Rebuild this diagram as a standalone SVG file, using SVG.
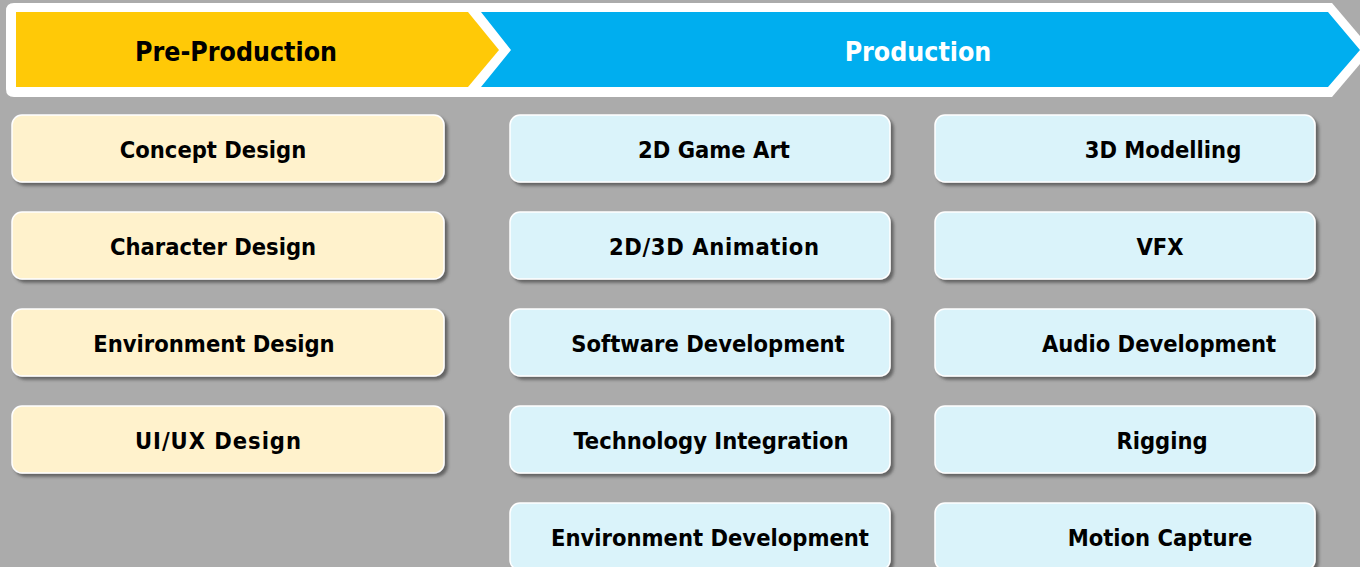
<svg xmlns="http://www.w3.org/2000/svg" width="1360" height="567" viewBox="0 0 1360 567">
<style>
.bg{fill:#ababab}
.box{stroke:#ffffff;stroke-width:1.5;filter:url(#sh)}
.pre{fill:#fff2cc}
.pro{fill:#daf3fa}
.t{font-family:"DejaVu Sans Condensed","DejaVu Sans",sans-serif;font-weight:bold;font-size:23.5px;fill:#000;text-anchor:middle}
.h{font-family:"DejaVu Sans Condensed","DejaVu Sans",sans-serif;font-weight:bold;font-size:26.5px;text-anchor:middle}
</style>
<defs>
<filter id="sh" x="-5%" y="-10%" width="115%" height="130%">
<feDropShadow dx="3" dy="3" stdDeviation="1.5" flood-color="#444" flood-opacity="0.7"/>
</filter>
</defs>
<rect class="bg" x="0" y="0" width="1360" height="567"/>
<g id="banner">
<path d="M14,3 L1332,3 L1372,50 L1332,97 L14,97 Q6,97 6,89 L6,11 Q6,3 14,3 Z" fill="#ffffff"/>
<polygon points="16,12 468,12 499,50 468,87 16,87" fill="#ffc907"/>
<polygon points="481,12 1328,12 1360,50 1328,87 481,87 511,50" fill="#00aeef"/>
</g>
<g id="hdr-pre"><text class="h" x="236" y="61" fill="#000">Pre-Production</text></g>
<g id="hdr-pro"><text class="h" x="918" y="61" fill="#ffffff">Production</text></g>
<g id="connectors"></g>
<g id="n-concept"><rect class="box pre" x="12" y="115" width="432" height="67" rx="10"/><text class="t" x="213" y="158">Concept Design</text></g>
<g id="n-character"><rect class="box pre" x="12" y="212" width="432" height="67" rx="10"/><text class="t" x="213" y="255">Character Design</text></g>
<g id="n-environment"><rect class="box pre" x="12" y="309" width="432" height="67" rx="10"/><text class="t" x="214" y="352">Environment Design</text></g>
<g id="n-uiux"><rect class="box pre" x="12" y="406" width="432" height="67" rx="10"/><text class="t" x="218" y="449" textLength="166" lengthAdjust="spacing">UI/UX Design</text></g>
<g id="n-2dart"><rect class="box pro" x="510" y="115" width="380" height="67" rx="10"/><text class="t" x="714" y="158">2D Game Art</text></g>
<g id="n-anim"><rect class="box pro" x="510" y="212" width="380" height="67" rx="10"/><text class="t" x="714" y="255" textLength="210" lengthAdjust="spacing">2D/3D Animation</text></g>
<g id="n-software"><rect class="box pro" x="510" y="309" width="380" height="67" rx="10"/><text class="t" x="708" y="352">Software Development</text></g>
<g id="n-tech"><rect class="box pro" x="510" y="406" width="380" height="67" rx="10"/><text class="t" x="711" y="449">Technology Integration</text></g>
<g id="n-envdev"><rect class="box pro" x="510" y="503" width="380" height="67" rx="10"/><text class="t" x="710" y="546">Environment Development</text></g>
<g id="n-3d"><rect class="box pro" x="935" y="115" width="380" height="67" rx="10"/><text class="t" x="1163" y="158">3D Modelling</text></g>
<g id="n-vfx"><rect class="box pro" x="935" y="212" width="380" height="67" rx="10"/><text class="t" x="1160" y="255">VFX</text></g>
<g id="n-audio"><rect class="box pro" x="935" y="309" width="380" height="67" rx="10"/><text class="t" x="1159" y="352">Audio Development</text></g>
<g id="n-rigging"><rect class="box pro" x="935" y="406" width="380" height="67" rx="10"/><text class="t" x="1162" y="449">Rigging</text></g>
<g id="n-mocap"><rect class="box pro" x="935" y="503" width="380" height="67" rx="10"/><text class="t" x="1160" y="546">Motion Capture</text></g>
</svg>
